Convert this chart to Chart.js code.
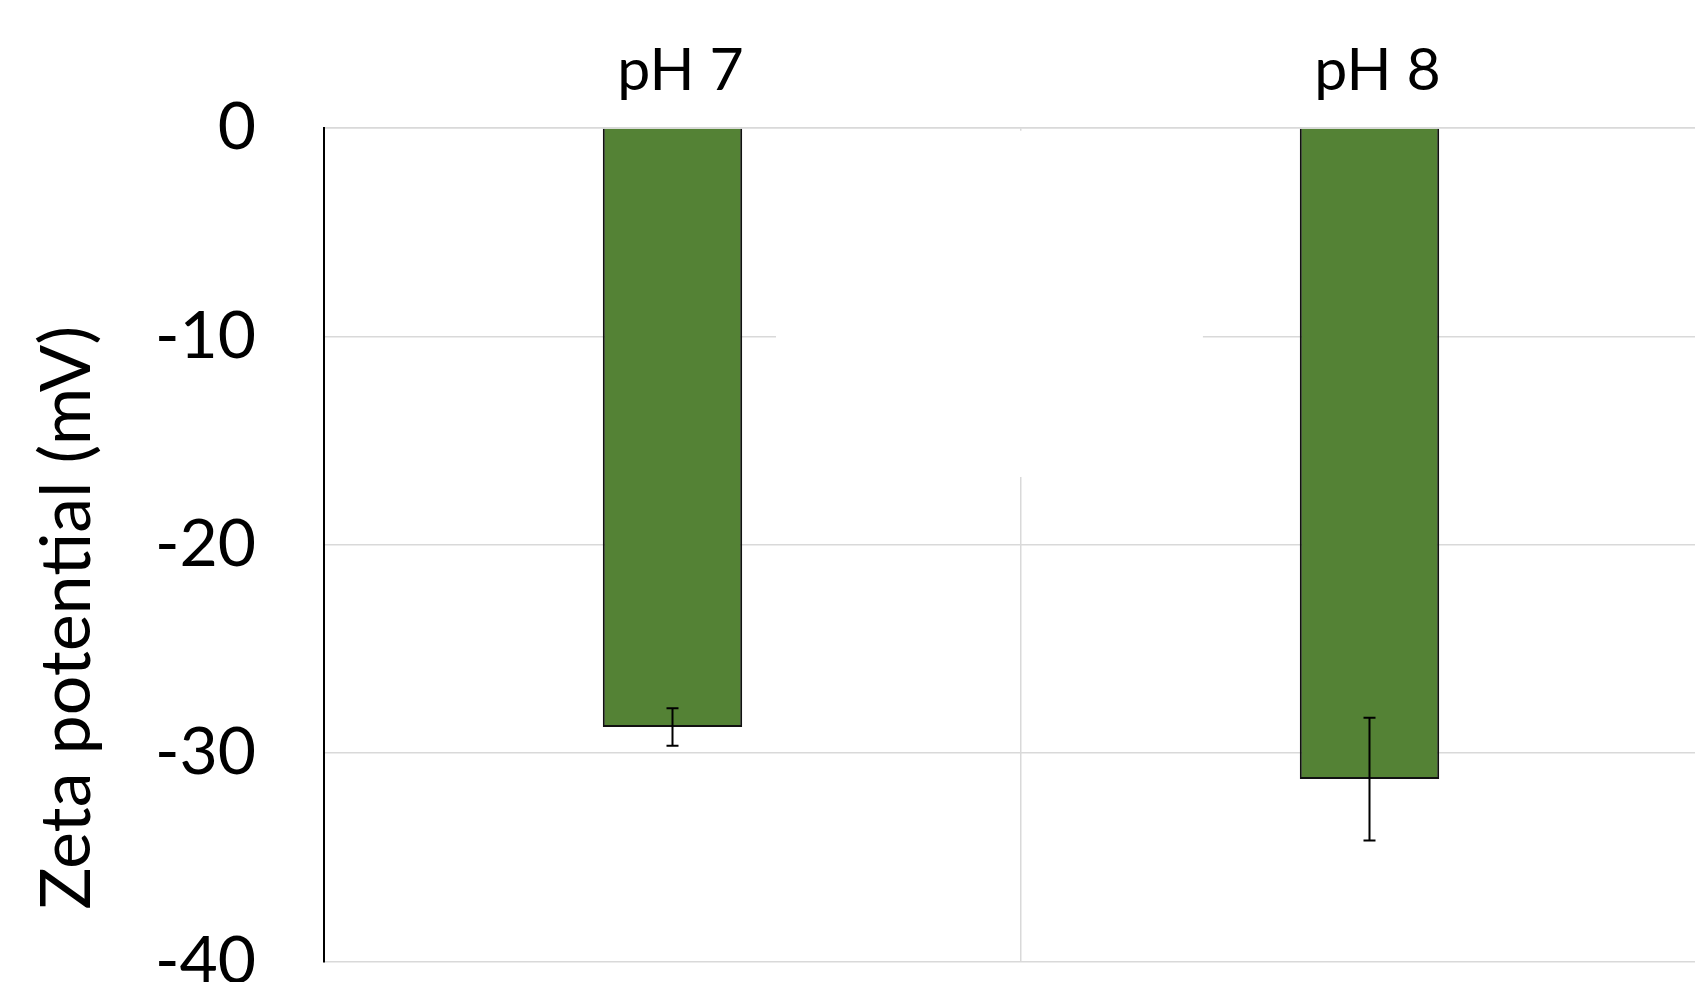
<!DOCTYPE html>
<html>
<head>
<meta charset="utf-8">
<title>Zeta potential</title>
<script src="https://cdn.jsdelivr.net/npm/chart.js@4/dist/chart.umd.min.js"></script>
<style>
  html, body { margin: 0; padding: 0; background: #ffffff; overflow: hidden; }
  #wrap { position: absolute; left: 0; top: 0; }
</style>
</head>
<body>
<div id="wrap"><canvas id="zeta" width="1718" height="1069"></canvas></div>
<script>
// Categories and measured values
const categories = ['pH 7', 'pH 8'];
const zetaMean = [-28.75, -31.25];   // mV
const zetaError = [0.9, 2.95];       // mV, ± half-range
const yTicks = [0, -10, -20, -30, -40];
const yTitle = 'Zeta potential (mV)';

// Blank panel laid over the grid, in scale units (category index, mV)
const blankPanel = { xFrom: 0.1485, xTo: 0.761, yFrom: -0.13, yTo: -16.75 };

const FONT = 'Lato, "Open Sans", "DejaVu Sans", sans-serif';

const panelPlugin = {
  id: 'blankPanel',
  beforeDatasetsDraw(chart) {
    const { ctx, scales: { x, y } } = chart;
    const x0 = x.getPixelForValue(blankPanel.xFrom);
    const x1 = x.getPixelForValue(blankPanel.xTo);
    const y0 = y.getPixelForValue(blankPanel.yFrom);
    const y1 = y.getPixelForValue(blankPanel.yTo);
    ctx.save();
    ctx.fillStyle = '#ffffff';
    ctx.fillRect(x0, y0, x1 - x0, y1 - y0);
    ctx.restore();
  }
};

const errorBarPlugin = {
  id: 'errorBars',
  afterDatasetsDraw(chart) {
    const { ctx, scales: { y } } = chart;
    const meta = chart.getDatasetMeta(0);
    ctx.save();
    ctx.strokeStyle = '#000000';
    ctx.lineWidth = 2;
    meta.data.forEach((bar, i) => {
      const cx = bar.x;
      const top = y.getPixelForValue(zetaMean[i] + zetaError[i]);
      const bot = y.getPixelForValue(zetaMean[i] - zetaError[i]);
      const cap = 6;
      ctx.beginPath();
      ctx.moveTo(cx, top); ctx.lineTo(cx, bot);
      ctx.moveTo(cx - cap, top); ctx.lineTo(cx + cap, top);
      ctx.moveTo(cx - cap, bot); ctx.lineTo(cx + cap, bot);
      ctx.stroke();
    });
    ctx.restore();
  }
};

// Rotated y-axis title, set a little below the middle of the plot
const yTitlePlugin = {
  id: 'yTitle',
  afterDraw(chart) {
    const { ctx, chartArea } = chart;
    const cy = (chartArea.top + chartArea.bottom) / 2 + 73;
    ctx.save();
    ctx.translate(67, cy);
    ctx.rotate(-Math.PI / 2);
    ctx.font = '70px ' + FONT;
    ctx.fillStyle = '#000000';
    ctx.textAlign = 'center';
    ctx.textBaseline = 'middle';
    ctx.fillText(yTitle, 0, 0);
    ctx.restore();
  }
};

new Chart(document.getElementById('zeta'), {
  type: 'bar',
  data: {
    labels: categories,
    datasets: [{
      data: zetaMean,
      backgroundColor: '#548235',
      borderColor: '#111111',
      borderWidth: 2,
      categoryPercentage: 1,
      barPercentage: 0.2
    }]
  },
  options: {
    responsive: false,
    animation: false,
    devicePixelRatio: 1,
    layout: { padding: { left: 0, right: 0, top: 0, bottom: 0 } },
    plugins: { legend: { display: false }, tooltip: { enabled: false } },
    scales: {
      x: {
        position: 'top',
        grid: { color: '#d9d9d9', lineWidth: 1.5, drawTicks: false, offset: true },
        border: { color: '#d9d9d9', width: 1.5 },
        ticks: { color: '#000000', font: { family: FONT, size: 59 }, padding: 22, labelOffset: 8 },
        afterFit(scale) { scale.height = 128; }
      },
      y: {
        min: -40,
        max: 0,
        afterBuildTicks(scale) { scale.ticks = yTicks.map(v => ({ value: v })); },
        grid: { color: '#d9d9d9', lineWidth: 1.5, drawTicks: false },
        border: { color: '#000000', width: 2 },
        ticks: { color: '#000000', font: { family: FONT, size: 66 }, padding: 68 },
        title: { display: false },
        afterFit(scale) { scale.width = 324; }
      }
    }
  },
  plugins: [panelPlugin, errorBarPlugin, yTitlePlugin]
});
</script>
</body>
</html>
